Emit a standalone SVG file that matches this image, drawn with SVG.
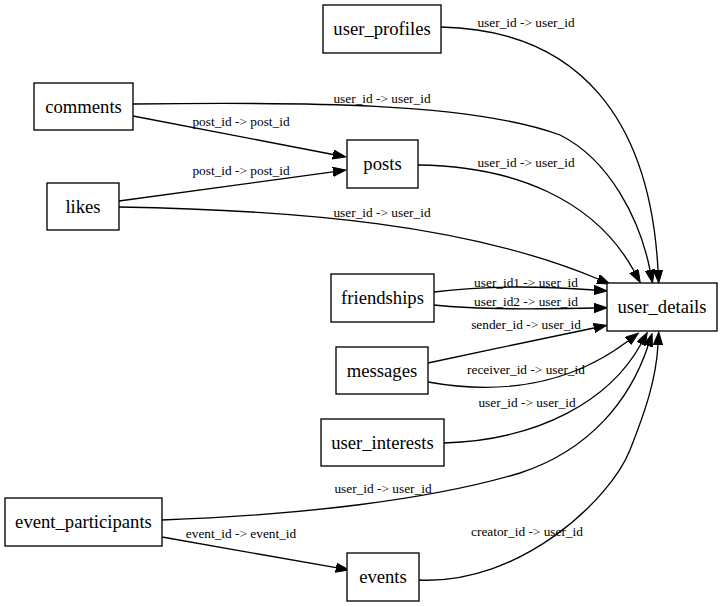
<svg xmlns="http://www.w3.org/2000/svg" width="723" height="607" viewBox="0 0 723 607">
<style>
.node rect{fill:#fff;stroke:#000;stroke-width:1.33}
.edges path{fill:none;stroke:#000;stroke-width:1.33}
</style>
<defs>
<marker id="ah" markerUnits="userSpaceOnUse" markerWidth="14" markerHeight="10" refX="0" refY="4.67" orient="auto">
<path d="M0,0 L13,4.67 L0,9.33 z" fill="#000" stroke="#000" stroke-width="1"/>
</marker>
</defs>
<rect width="723" height="607" fill="#fff"/>
<g class="edges" id="edges">
<path marker-end="url(#ah)" d="M441,27 C580,30 650,120 658,270"/>
<path marker-end="url(#ah)" d="M133,104 C300,102 470,102 560,135 C610,160 640,220 650,270"/>
<path marker-end="url(#ah)" d="M133,116 L333,154.5"/>
<path marker-end="url(#ah)" d="M119,201 L333,171.8"/>
<path marker-end="url(#ah)" d="M418,165 C515,166 595,200 634,271"/>
<path marker-end="url(#ah)" d="M119,207 C300,210 470,225 598,279"/>
<path marker-end="url(#ah)" d="M434,292 C480,286 540,286 594,290"/>
<path marker-end="url(#ah)" d="M434,305 C480,310 540,309 594,308"/>
<path marker-end="url(#ah)" d="M428,363 C480,352 550,337 594,328"/>
<path marker-end="url(#ah)" d="M428,382 C500,395 570,385 628,341"/>
<path marker-end="url(#ah)" d="M444,443 C540,440 610,400 641,344"/>
<path marker-end="url(#ah)" d="M162,520 C300,515 430,500 520,473 C590,450 630,400 648,346"/>
<path marker-end="url(#ah)" d="M162,537 L336,567.7"/>
<path marker-end="url(#ah)" d="M419,580 C520,585 610,500 630,450 C645,412 656,380 658,345"/>
<text font-family="Liberation Serif" font-size="13.33" text-anchor="middle" x="526" y="27">user_id -&gt; user_id</text>
<text font-family="Liberation Serif" font-size="13.33" text-anchor="middle" x="382" y="103">user_id -&gt; user_id</text>
<text font-family="Liberation Serif" font-size="13.33" text-anchor="middle" x="241" y="126">post_id -&gt; post_id</text>
<text font-family="Liberation Serif" font-size="13.33" text-anchor="middle" x="241" y="175">post_id -&gt; post_id</text>
<text font-family="Liberation Serif" font-size="13.33" text-anchor="middle" x="526" y="167">user_id -&gt; user_id</text>
<text font-family="Liberation Serif" font-size="13.33" text-anchor="middle" x="382" y="217">user_id -&gt; user_id</text>
<text font-family="Liberation Serif" font-size="13.33" text-anchor="middle" x="526" y="287">user_id1 -&gt; user_id</text>
<text font-family="Liberation Serif" font-size="13.33" text-anchor="middle" x="526" y="306">user_id2 -&gt; user_id</text>
<text font-family="Liberation Serif" font-size="13.33" text-anchor="middle" x="526" y="329">sender_id -&gt; user_id</text>
<text font-family="Liberation Serif" font-size="13.33" text-anchor="middle" x="526" y="374">receiver_id -&gt; user_id</text>
<text font-family="Liberation Serif" font-size="13.33" text-anchor="middle" x="527" y="407">user_id -&gt; user_id</text>
<text font-family="Liberation Serif" font-size="13.33" text-anchor="middle" x="383" y="493">user_id -&gt; user_id</text>
<text font-family="Liberation Serif" font-size="13.33" text-anchor="middle" x="241" y="538">event_id -&gt; event_id</text>
<text font-family="Liberation Serif" font-size="13.33" text-anchor="middle" x="527" y="536">creator_id -&gt; user_id</text>
</g>
<g class="node" id="user_profiles"><rect x="323" y="5" width="118" height="48"/><text font-family="Liberation Serif" font-size="18.67" text-anchor="middle" x="382" y="35">user_profiles</text></g>
<g class="node" id="comments"><rect x="34" y="83" width="99" height="47"/><text font-family="Liberation Serif" font-size="18.67" text-anchor="middle" x="83.5" y="113">comments</text></g>
<g class="node" id="posts"><rect x="347" y="140" width="71" height="48"/><text font-family="Liberation Serif" font-size="18.67" text-anchor="middle" x="382.5" y="170">posts</text></g>
<g class="node" id="likes"><rect x="47" y="183" width="72" height="47"/><text font-family="Liberation Serif" font-size="18.67" text-anchor="middle" x="83" y="213">likes</text></g>
<g class="node" id="friendships"><rect x="331" y="274" width="103" height="48"/><text font-family="Liberation Serif" font-size="18.67" text-anchor="middle" x="382.5" y="304">friendships</text></g>
<g class="node" id="messages"><rect x="336" y="347" width="92" height="47"/><text font-family="Liberation Serif" font-size="18.67" text-anchor="middle" x="382" y="377">messages</text></g>
<g class="node" id="user_interests"><rect x="321" y="419" width="123" height="47"/><text font-family="Liberation Serif" font-size="18.67" text-anchor="middle" x="382.5" y="449">user_interests</text></g>
<g class="node" id="user_details"><rect x="607" y="283" width="110" height="48"/><text font-family="Liberation Serif" font-size="18.67" text-anchor="middle" x="662" y="313">user_details</text></g>
<g class="node" id="event_participants"><rect x="5" y="498" width="157" height="48"/><text font-family="Liberation Serif" font-size="18.67" text-anchor="middle" x="83.5" y="528">event_participants</text></g>
<g class="node" id="events"><rect x="347" y="553" width="72" height="48"/><text font-family="Liberation Serif" font-size="18.67" text-anchor="middle" x="383" y="583">events</text></g>
</svg>
